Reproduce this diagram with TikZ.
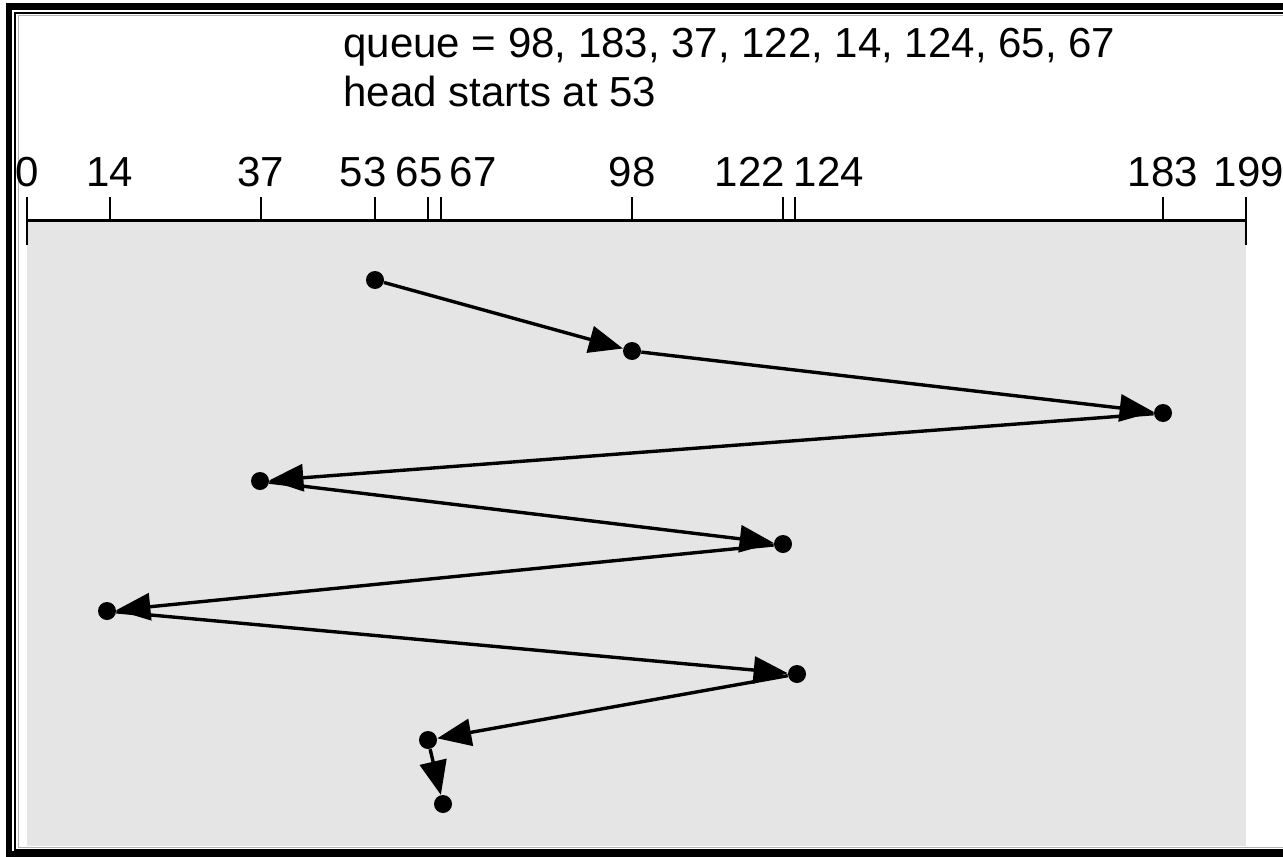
\documentclass[tikz,border=0pt]{standalone}
\usepackage{fontspec}
\setmainfont{Liberation Sans}
\usetikzlibrary{arrows.meta}
\definecolor{trackfill}{HTML}{E5E5E5}

\begin{document}
\begin{tikzpicture}[x=0.5pt, y=-0.5pt,
  dot/.style={circle, fill=black, inner sep=0pt, minimum size=9pt},
  arr/.style={-{Triangle[length=17pt, width=13.5pt]}, line width=1.7pt},
  lbl/.style={anchor=base, inner sep=0pt, font=\fontsize{21}{24}\selectfont},
  txt/.style={anchor=base west, inner sep=0pt, font=\fontsize{21}{24}\selectfont},
  tick/.style={line width=1pt}
]
  \useasboundingbox (0,0) rectangle (1283,856);

  \draw[line width=3.4pt] (9,6.5) rectangle (1320,854);
  \draw[line width=1pt] (15,13) rectangle (1320,849.5);
  \draw[gray!60, line width=0.5pt] (18,16) rectangle (1320,847);

  \fill[trackfill] (27,221) rectangle (1246,846);

  \node[txt] (queue) at (343,58) {queue = 98, 183, 37, 122, 14, 124, 65, 67};
  \node[txt] (head) at (343,106) {head starts at 53};

  \draw[line width=1.5pt] (27,220) -- (1246,220);
  \draw[tick] (27,197) -- (27,245);
  \draw[tick] (1246,197) -- (1246,245);
  \foreach \x in {110,261,375,428,441,632,783,795,1163}
    \draw[tick] (\x,197) -- (\x,220);

  \node[lbl] (l0) at (27,186) {0};
  \node[lbl] (l14) at (110,186) {14};
  \node[lbl] (l37) at (261,186) {37};
  \node[lbl] (l53) at (363,186) {53};
  \node[lbl] (l65) at (419,186) {65};
  \node[lbl] (l67) at (473,186) {67};
  \node[lbl] (l98) at (632,186) {98};
  \node[lbl] (l122) at (750,186) {122};
  \node[lbl] (l124) at (829,186) {124};
  \node[lbl] (l183) at (1163,186) {183};
  \node[lbl] (l199) at (1249,186) {199};

  \node[dot] (p53) at (375,280) {};
  \node[dot] (p98) at (632,351) {};
  \node[dot] (p183) at (1163,413) {};
  \node[dot] (p37) at (260,481) {};
  \node[dot] (p122) at (783,544) {};
  \node[dot] (p14) at (107,611) {};
  \node[dot] (p124) at (797,674) {};
  \node[dot] (p65) at (428,740) {};
  \node[dot] (p67) at (443,804) {};

  \draw[arr] (p53) -- (p98);
  \draw[arr] (p98) -- (p183);
  \draw[arr] (p183) -- (p37);
  \draw[arr] (p37) -- (p122);
  \draw[arr] (p122) -- (p14);
  \draw[arr] (p14) -- (p124);
  \draw[arr] (p124) -- (p65);
  \draw[arr] (p65) -- (p67);
\end{tikzpicture}
\end{document}
